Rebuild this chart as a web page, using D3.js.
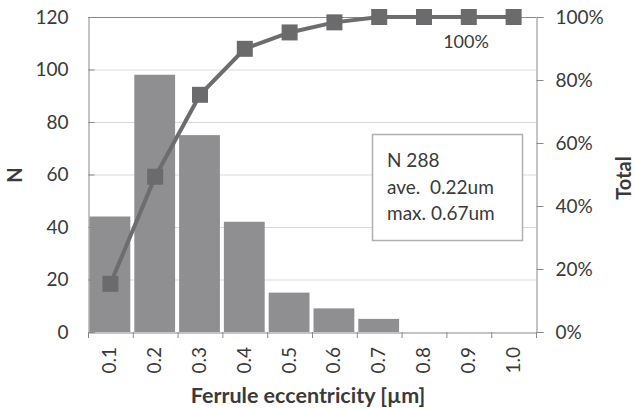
<!DOCTYPE html>
<html><head><meta charset="utf-8">
<script src="https://cdn.jsdelivr.net/npm/d3@7"></script>
<style>body{margin:0;background:#fff}svg{display:block}text{font-family:Lato,"Open Sans",sans-serif;fill:#3a3a3a}</style>
</head><body><svg id="c" width="634" height="409"></svg>
<script>
const categories = ["0.1","0.2","0.3","0.4","0.5","0.6","0.7","0.8","0.9","1.0"];
const counts = [44, 98, 75, 42, 15, 9, 5, 0, 0, 0];
const cumulative = [15.3, 49.3, 75.3, 89.9, 95.1, 98.3, 100, 100, 100, 100];
const leftTicks = [0, 20, 40, 60, 80, 100, 120];
const rightTicks = [0, 20, 40, 60, 80, 100];
const legendLines = ["N 288", "ave.  0.22um", "max. 0.67um"];

const svg = d3.select("#c");
const L = 88, R = 536, T = 17, B = 332;
const xb = d3.scaleBand().domain(categories).range([L, R]);
const y = d3.scaleLinear().domain([0, 120]).range([B, T]);
const y2 = d3.scaleLinear().domain([0, 100]).range([B, T]);

// gridlines
svg.append("g").selectAll("line").data(leftTicks.filter(d => d > 0 && d < 120)).join("line")
  .attr("x1", L).attr("x2", R).attr("y1", d => y(d) + 0.5).attr("y2", d => y(d) + 0.5)
  .attr("stroke", "#d9d9d9");
// top border
svg.append("line").attr("x1", L).attr("x2", R).attr("y1", T + 0.5).attr("y2", T + 0.5).attr("stroke", "#8a8a8a");

// bars
svg.append("g").selectAll("rect").data(counts).join("rect")
  .attr("x", (d, i) => xb(categories[i]) + 1.5).attr("width", xb.bandwidth() - 4)
  .attr("y", d => y(d)).attr("height", d => B - y(d)).attr("fill", "#8f8f91");

// left axis
const ga = svg.append("g").attr("transform", `translate(${L + 0.5},0)`)
  .call(d3.axisLeft(y).tickValues(leftTicks).tickSize(-6).tickPadding(20));
ga.select(".domain").attr("stroke", "#8a8a8a");
ga.selectAll(".tick line").attr("stroke", "#8a8a8a");
ga.selectAll("text").style("font-size", "19px").attr("fill", "#3a3a3a");

// right axis
const gr = svg.append("g").attr("transform", `translate(${R + 0.5},0)`)
  .call(d3.axisRight(y2).tickValues(rightTicks).tickSize(7).tickPadding(12).tickFormat(d => d + "%"));
gr.select(".domain").attr("stroke", "#8a8a8a");
gr.selectAll(".tick line").attr("stroke", "#8a8a8a");
gr.selectAll("text").style("font-size", "19px").attr("fill", "#3a3a3a");

// bottom axis
const gb = svg.append("g").attr("transform", `translate(0,${B + 0.5})`)
  .call(d3.axisBottom(xb).tickSize(0).tickPadding(0));
gb.select(".domain").attr("stroke", "#8a8a8a");
gb.selectAll(".tick text").remove();
svg.append("g").selectAll("line").data(d3.range(categories.length + 1)).join("line")
  .attr("x1", i => L + i * xb.step() + 0.5).attr("x2", i => L + i * xb.step() + 0.5)
  .attr("y1", B).attr("y2", B + 6).attr("stroke", "#8a8a8a");
svg.append("g").selectAll("text").data(categories).join("text")
  .attr("transform", d => `translate(${xb(d) + xb.bandwidth() / 2 + 6},${347}) rotate(-90)`)
  .attr("text-anchor", "end").style("font-size", "19px").text(d => d);

// cumulative line
const cx = d => xb(d) + xb.bandwidth() / 2;
svg.append("path").datum(cumulative)
  .attr("d", d3.line().x((d, i) => cx(categories[i])).y(d => y2(d)))
  .attr("fill", "none").attr("stroke", "#6d6d6f").attr("stroke-width", 4);
svg.append("g").selectAll("rect").data(cumulative).join("rect")
  .attr("x", (d, i) => cx(categories[i]) - 8).attr("y", d => y2(d) - 8)
  .attr("width", 16).attr("height", 16).attr("fill", "#6b6b6d");

// 100% label
svg.append("text").attr("x", 466).attr("y", 48).attr("text-anchor", "middle")
  .style("font-size", "18px").text("100%");

// legend box
svg.append("rect").attr("x", 372.5).attr("y", 134.5).attr("width", 150).attr("height", 106)
  .attr("fill", "#fff").attr("stroke", "#b0b0b0").attr("stroke-width", 1.5);
svg.append("g").selectAll("text").data(legendLines).join("text")
  .attr("x", 387).attr("y", (d, i) => 167 + i * 26.7).style("font-size", "19px")
  .style("white-space", "pre").attr("xml:space", "preserve").text(d => d);

// axis titles
svg.append("text").attr("transform", "translate(22,175) rotate(-90)").attr("text-anchor", "middle")
  .style("font-size", "20px").style("font-weight", "bold").text("N");
svg.append("text").attr("transform", "translate(631,178) rotate(-90)").attr("text-anchor", "middle")
  .style("font-size", "20px").style("font-weight", "bold").text("Total");
svg.append("text").attr("x", 308).attr("y", 403).attr("text-anchor", "middle")
  .style("font-size", "21.5px").style("font-weight", "bold").text("Ferrule eccentricity [µm]");
</script></body></html>
